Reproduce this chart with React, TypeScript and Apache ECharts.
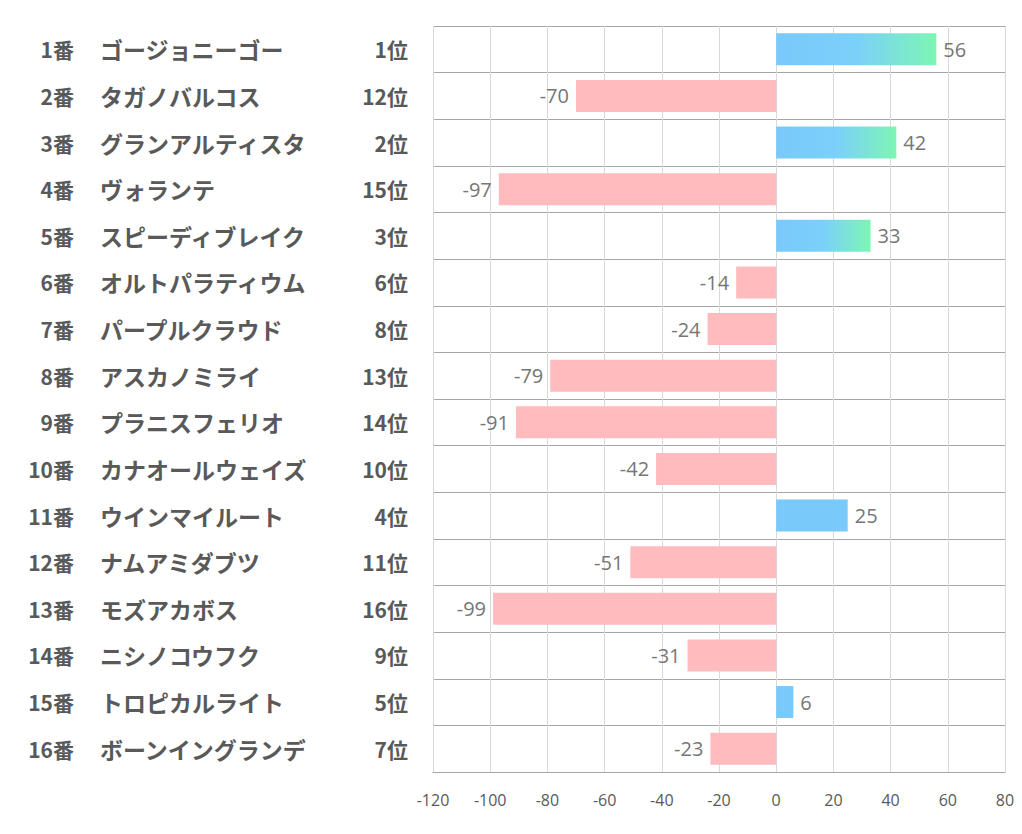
import React, { useEffect, useRef } from "react";
import * as echarts from "echarts";

const numbers = ["1番", "2番", "3番", "4番", "5番", "6番", "7番", "8番", "9番", "10番", "11番", "12番", "13番", "14番", "15番", "16番"];
const names = [
  "ゴージョニーゴー", "タガノバルコス", "グランアルティスタ", "ヴォランテ",
  "スピーディブレイク", "オルトパラティウム", "パープルクラウド", "アスカノミライ",
  "プラニスフェリオ", "カナオールウェイズ", "ウインマイルート", "ナムアミダブツ",
  "モズアカボス", "ニシノコウフク", "トロピカルライト", "ボーンイングランデ",
];
const ranks = ["1位", "12位", "2位", "15位", "3位", "6位", "8位", "13位", "14位", "10位", "4位", "11位", "16位", "9位", "5位", "7位"];
const values = [56, -70, 42, -97, 33, -14, -24, -79, -91, -42, 25, -51, -99, -31, 6, -23];
const gradientRows = [0, 2, 4];
const xTicks = { min: -120, max: 80, interval: 20 };

const PINK = "#ffbbbe";
const BLUE = "#79c9fa";
const TEXT = "#595959";
const JP = "'Noto Sans CJK JP', sans-serif";

function labelAxis(data: string[], margin: number, align: string, fontSize: number, showSplit: boolean) {
  return {
    type: "category",
    inverse: true,
    position: "left",
    data,
    axisLine: { show: false },
    axisTick: { show: false },
    splitLine: { show: showSplit, lineStyle: { color: "#a6a6a6", width: 1 } },
    axisLabel: {
      margin,
      align,
      color: TEXT,
      fontSize,
      fontWeight: "bold",
      fontFamily: JP,
      padding: [0, 0, 2, 0],
    },
  };
}

export default function App() {
  const ref = useRef<HTMLDivElement>(null);
  useEffect(() => {
    if (!ref.current) return;
    const chart = echarts.init(ref.current, undefined, { renderer: "svg" });
    const data = values.map((v, i) => {
      let color: any = v < 0 ? PINK : BLUE;
      if (gradientRows.includes(i)) {
        color = new echarts.graphic.LinearGradient(0, 0, 1, 0, [
          { offset: 0, color: BLUE },
          { offset: 0.5, color: "#7bd0fa" },
          { offset: 1, color: "#7df6b4" },
        ]);
      }
      return {
        value: v,
        itemStyle: { color },
        label: { position: v < 0 ? "left" : "right" },
      };
    });
    chart.setOption({
      animation: false,
      grid: { left: 433, right: 17, top: 26, bottom: 62, containLabel: false },
      xAxis: {
        type: "value",
        min: xTicks.min,
        max: xTicks.max,
        interval: xTicks.interval,
        axisLine: { show: true, lineStyle: { color: "#a6a6a6", width: 1 } },
        axisTick: { show: false },
        axisLabel: {
          color: TEXT,
          fontSize: 16,
          fontFamily: "'Open Sans', 'Noto Sans', sans-serif",
          margin: 20,
        },
        splitLine: { show: true, lineStyle: { color: "#d9d9d9", width: 1 } },
      },
      yAxis: [
        labelAxis(ranks, 25, "right", 21, true),
        labelAxis(numbers, 359, "right", 21, false),
        labelAxis(names, 333, "left", 23, false),
      ],
      series: [
        {
          type: "bar",
          data,
          barWidth: 32,
          label: {
            show: true,
            color: "#767676",
            fontSize: 20,
            distance: 7,
            fontFamily: "'Open Sans', 'Noto Sans', sans-serif",
          },
        },
      ],
    });
    return () => chart.dispose();
  }, []);
  return (
    <div
      ref={ref}
      style={{ position: "fixed", left: 0, top: 0, width: 1022, height: 834, background: "#fff" }}
    />
  );
}
